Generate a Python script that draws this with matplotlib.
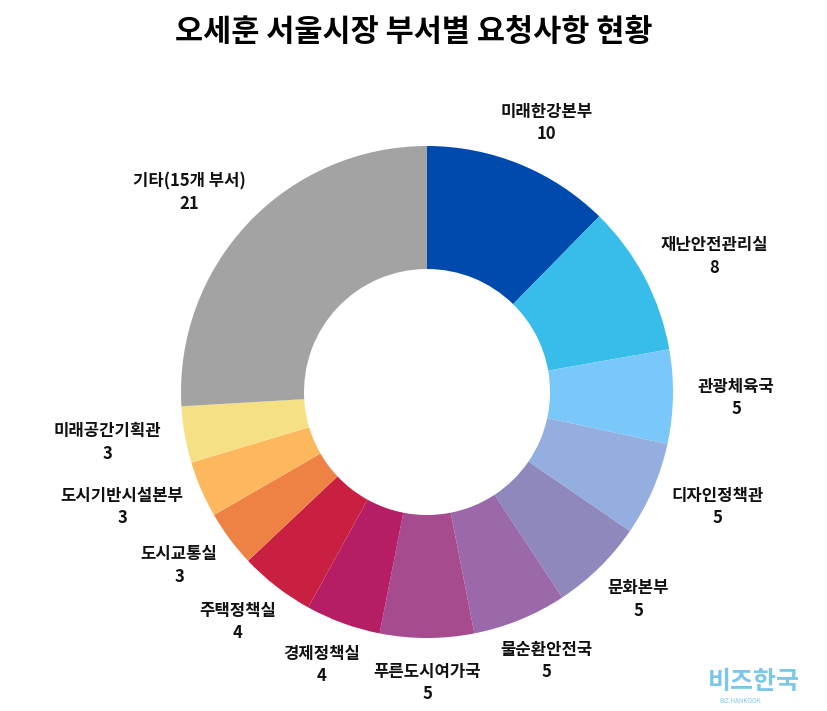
import numpy as np
import matplotlib
matplotlib.use('Agg')
import matplotlib.pyplot as plt

plt.rcParams['font.family'] = ['Noto Sans CJK KR', 'DejaVu Sans']

# data
departments = ['미래한강본부', '재난안전관리실', '관광체육국', '디자인정책관', '문화본부',
               '물순환안전국', '푸른도시여가국', '경제정책실', '주택정책실', '도시교통실',
               '도시기반시설본부', '미래공간기획관', '기타(15개 부서)']
requests = [10, 8, 5, 5, 5, 5, 5, 4, 4, 3, 3, 3, 21]
colors = ['#004aad', '#38bdeb', '#7ac8fa', '#93aedf', '#8f88bc', '#9b69a9', '#a74b8f',
          '#b51d65', '#c91f40', '#ee8245', '#fdb75d', '#f6e084', '#a3a3a3']

W, H = 828, 711
cx, cy, R = 427, 392, 246  # ring centre / radius in pixels

fig = plt.figure(figsize=(W / 100, H / 100), dpi=100)
ax = fig.add_axes([0, 0, 1, 1])
ax.pie(requests, colors=colors, startangle=90, counterclock=False,
       radius=1, wedgeprops=dict(width=0.5, linewidth=0))
ax.set_xlim(-cx / R, (W - cx) / R)
ax.set_ylim(-(H - cy) / R, cy / R)
ax.set_aspect('equal')
ax.axis('off')

fig.text(0.5, 1 - 32 / H, '오세훈 서울시장 부서별 요청사항 현황', ha='center', va='center',
         fontsize=22, fontweight='black')

# labels outside the ring, box touching an anchor circle
fig.canvas.draw()
renderer = fig.canvas.get_renderer()
total = sum(requests)
cum = np.cumsum([0] + requests[:-1])
r_anchor = 1.1
for name, val, c0 in zip(departments, requests, cum):
    theta = np.deg2rad((c0 + val / 2) / total * 360)
    s, c = np.sin(theta), np.cos(theta)
    t = ax.text(0, 0, f'{name}\n{val}', ha='center', va='center', fontsize=12,
                fontweight='bold', linespacing=1.3, color='#111111')
    bb = t.get_window_extent(renderer)
    w, h = bb.width / R, bb.height / R
    t.set_position((r_anchor * s + w / 2 * s, r_anchor * c + h / 2 * c))

# watermark
fig.text(754 / W, 1 - 682 / H, '비즈한국', ha='center', va='center', fontsize=18,
         fontweight='bold', color='#7cc6ea')
fig.text(740 / W, 1 - 701 / H, 'BIZ.HANKOOK', ha='center', va='center', fontsize=4.5,
         color='#7cc6ea')

fig.savefig('out.png', dpi=100)
